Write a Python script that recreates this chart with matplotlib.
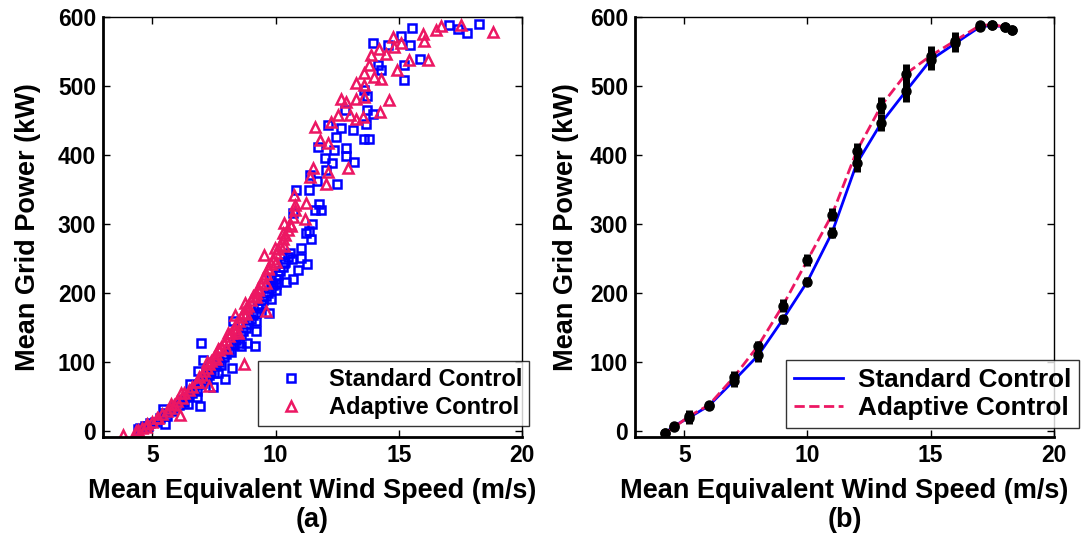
import matplotlib
matplotlib.use("Agg")
import matplotlib.pyplot as plt

plt.rcParams['font.family'] = ['Liberation Sans', 'DejaVu Sans']
plt.rcParams['font.weight'] = 'bold'

# ---- panel (a): scatter of 10-min means ----
std_x = [18.24, 17.77, 17.39, 17.03, 15.54, 15.09, 15.47, 14.58, 13.96, 15.23, 15.88, 15.23,
         14.15, 14.28, 13.58, 13.72, 13.95, 13.72, 13.58, 13.80, 13.68, 12.80, 13.14, 12.66,
         12.15, 12.46, 11.72, 12.86, 12.86, 13.17, 12.39, 11.99, 12.29, 12.50, 12.05, 11.38,
         11.68, 11.35, 10.84, 11.76, 11.85, 11.61, 10.70, 11.49, 11.35, 11.45, 11.22, 11.04,
         11.04, 11.28, 10.68, 10.93, 10.70, 10.43, 10.03, 9.82, 9.82, 9.72, 9.22, 9.22, 8.84,
         8.27, 8.24, 7.93, 6.99, 7.05, 7.46, 6.85, 6.92, 6.82, 6.51, 6.45, 5.50, 5.43, 4.82,
         4.42, 7.66, 8.61, 9.15, 9.28, 10.03, 10.36,
         4.5, 4.7, 4.9, 5.1, 5.3, 5.5, 5.6, 5.8, 5.9, 6.1, 6.2, 6.3, 6.4, 6.6, 6.7, 6.8, 6.9,
         7.0, 7.1, 7.2, 7.3, 7.4, 7.5, 7.6, 7.7, 7.8, 7.9, 8.0, 8.1, 8.2, 8.3, 8.4, 8.5, 8.6,
         8.7, 8.8, 8.9, 9.0, 9.1, 9.2, 9.3, 9.4, 9.5, 9.6, 9.7, 9.8, 9.9, 10.0, 10.1, 10.2,
         10.3, 10.4, 10.5, 10.6]
std_y = [590, 577, 583, 588, 584, 572, 559, 560, 563, 509, 540, 530,
         530, 523, 494, 486, 460, 465, 424, 424, 445, 465, 437, 439,
         444, 427, 412, 410, 399, 390, 408, 396, 388, 359, 379, 371,
         362, 350, 349, 330, 320, 320, 316, 301, 290, 278, 287, 266,
         251, 242, 249, 233, 220, 216, 214, 222, 191, 171, 160, 145, 128,
         160, 92, 76, 128, 103, 64, 88, 37, 50, 68, 39, 11, 32, 8,
         3, 85, 124, 124, 181, 205, 244,
         5, 8, 12, 14, 20, 26, 22, 30, 35, 38, 45, 42, 50, 55, 62, 58, 68,
         70, 78, 74, 82, 88, 85, 95, 100, 96, 108, 112, 118, 115, 125, 132, 128, 140,
         145, 150, 155, 162, 168, 172, 178, 185, 190, 196, 200, 208, 212, 220, 226, 232,
         238, 246, 252, 258]

adp_x = [18.81, 17.53, 16.72, 16.51, 15.97, 16.01, 16.20, 15.43, 14.93, 14.78, 15.09, 14.82,
         14.49, 14.18, 13.88, 13.81, 13.61, 14.01, 14.28, 13.28, 13.61, 14.59, 14.24, 13.58,
         13.28, 12.64, 12.88, 13.01, 13.28, 13.55, 12.53, 12.26, 11.61, 11.82, 12.12, 11.54,
         12.14, 12.93, 11.38, 12.05, 10.77, 10.80, 11.24, 10.34, 10.64, 11.18, 10.30, 9.96,
         9.55, 10.36, 9.69, 9.28, 9.62, 8.77, 8.36, 8.47, 8.07, 8.74, 7.66, 7.32, 6.85, 6.18,
         6.11, 5.77, 5.23, 4.76, 4.35, 3.81,
         4.4, 4.6, 4.8, 5.0, 5.2, 5.4, 5.6, 5.7, 5.9, 6.0, 6.2, 6.3, 6.5, 6.6, 6.8, 6.9, 7.0,
         7.1, 7.2, 7.3, 7.4, 7.5, 7.6, 7.7, 7.8, 7.9, 8.0, 8.1, 8.2, 8.3, 8.4, 8.5, 8.6, 8.7,
         8.8, 8.9, 9.0, 9.1, 9.2, 9.3, 9.4, 9.5, 9.6, 9.7, 9.8, 9.9, 10.0, 10.1, 10.2, 10.3,
         10.4, 10.5, 10.6, 10.7, 10.8, 7.2, 7.6, 8.0, 8.4, 8.8, 9.2, 9.6, 10.0]
adp_y = [578, 588, 587, 581, 575, 565, 538, 538, 523, 571, 562, 557,
         547, 554, 545, 530, 519, 513, 511, 504, 502, 480, 463, 485,
         481, 481, 477, 458, 453, 456, 458, 448, 441, 422, 417, 382,
         375, 381, 369, 359, 343, 328, 331, 302, 297, 307, 287, 266,
         256, 268, 237, 205, 174, 186, 169, 143, 143, 97, 119, 66, 71, 56,
         23, 39, 20, 6, 0, -6,
         2, 5, 10, 14, 20, 25, 30, 34, 38, 44, 48, 55, 60, 64, 72, 78, 82,
         88, 92, 98, 102, 108, 112, 118, 122, 128, 132, 138, 142, 148, 155, 160, 165, 172,
         178, 182, 190, 196, 200, 208, 214, 222, 228, 235, 242, 250, 258, 264, 270, 278,
         285, 292, 300, 310, 320, 100, 105, 120, 145, 170, 195, 215, 245]

# ---- panel (b): binned power curves ----
bin_x = [4.2, 4.6, 5.2, 6.0, 7.0, 8.0, 9.0, 10.0, 11.0, 12.0, 13.0, 14.0, 15.0, 16.0,
         17.0, 17.5, 18.0, 18.3]
std_curve = [-3, 8, 20, 37, 73, 110, 162, 217, 288, 388, 447, 493, 538, 562, 586, 588, 586, 582]
adp_curve = [-3, 6, 22, 38, 78, 124, 182, 248, 314, 406, 472, 518, 544, 566, 588, 589, 586, 582]
std_err = [3, 4, 9, 5, 9, 9, 7, 7, 8, 12, 12, 16, 14, 12, 3, 3, 3, 3]
adp_err = [3, 4, 9, 5, 9, 7, 9, 9, 9, 12, 12, 14, 14, 12, 3, 3, 3, 3]

blue = '#0000FF'
pink = '#EC1763'

fig = plt.figure(figsize=(10.88, 5.36), dpi=100)
ax1 = fig.add_axes([0.0947, 0.185, 0.385, 0.783])
ax2 = fig.add_axes([0.5836, 0.185, 0.385, 0.783])

ax1.plot(std_x, std_y, 's', ls='none', mfc='none', mec=blue, ms=5.5, mew=1.8,
         label='Standard Control')
ax1.plot(adp_x, adp_y, '^', ls='none', mfc='none', mec=pink, ms=7, mew=1.8,
         label='Adaptive Control')

ax2.plot(bin_x, std_curve, '-', color=blue, lw=2, label='Standard Control', zorder=2)
ax2.plot(bin_x, adp_curve, '--', color=pink, lw=2, label='Adaptive Control', zorder=2)
ax2.errorbar(bin_x, std_curve, yerr=std_err, fmt='o', color='k', ms=6.5,
             elinewidth=5, capsize=0, zorder=3)
ax2.errorbar(bin_x, adp_curve, yerr=adp_err, fmt='o', color='k', ms=6.5,
             elinewidth=5, capsize=0, zorder=3)

for ax, tag, pad in [(ax1, '(a)', 12), (ax2, '(b)', 8)]:
    ax.set_xlim(3, 20)
    ax.set_ylim(-8, 600)
    ax.set_xticks([5, 10, 15, 20])
    ax.set_yticks([0, 100, 200, 300, 400, 500, 600])
    ax.tick_params(direction='in', length=5, width=1, labelsize=16.5, top=True, right=True,
                   pad=5)
    for lab in ax.get_xticklabels() + ax.get_yticklabels():
        lab.set_fontweight('bold')
    ax.spines['left'].set_linewidth(2)
    ax.spines['bottom'].set_linewidth(2)
    ax.spines['top'].set_linewidth(1)
    ax.spines['right'].set_linewidth(1)
    ax.set_xlabel('Mean Equivalent Wind Speed (m/s)\n' + tag, fontsize=19.5,
                  fontweight='bold', labelpad=8, linespacing=1.15)
    ax.set_ylabel('Mean Grid Power (kW)', fontsize=19.5, fontweight='bold', labelpad=pad)

leg1 = ax1.legend(loc='upper left', bbox_to_anchor=(0.237, 0.3265),
                  bbox_transform=fig.transFigure, fontsize=17, frameon=True,
                  fancybox=False, edgecolor='k', handlelength=2.2, handletextpad=0.5,
                  borderpad=0.3, labelspacing=0.2, borderaxespad=0)
leg1.get_frame().set_linewidth(1)
leg2 = ax2.legend(loc='upper left', bbox_to_anchor=(0.7224, 0.328),
                  bbox_transform=fig.transFigure, fontsize=18.8, frameon=True,
                  fancybox=False, edgecolor='k', handlelength=1.9, handletextpad=0.55,
                  borderpad=0.3, labelspacing=0.15, borderaxespad=0)
leg2.get_frame().set_linewidth(1)
for leg in (leg1, leg2):
    for t in leg.get_texts():
        t.set_fontweight('bold')

fig.savefig('out.png', dpi=100)
